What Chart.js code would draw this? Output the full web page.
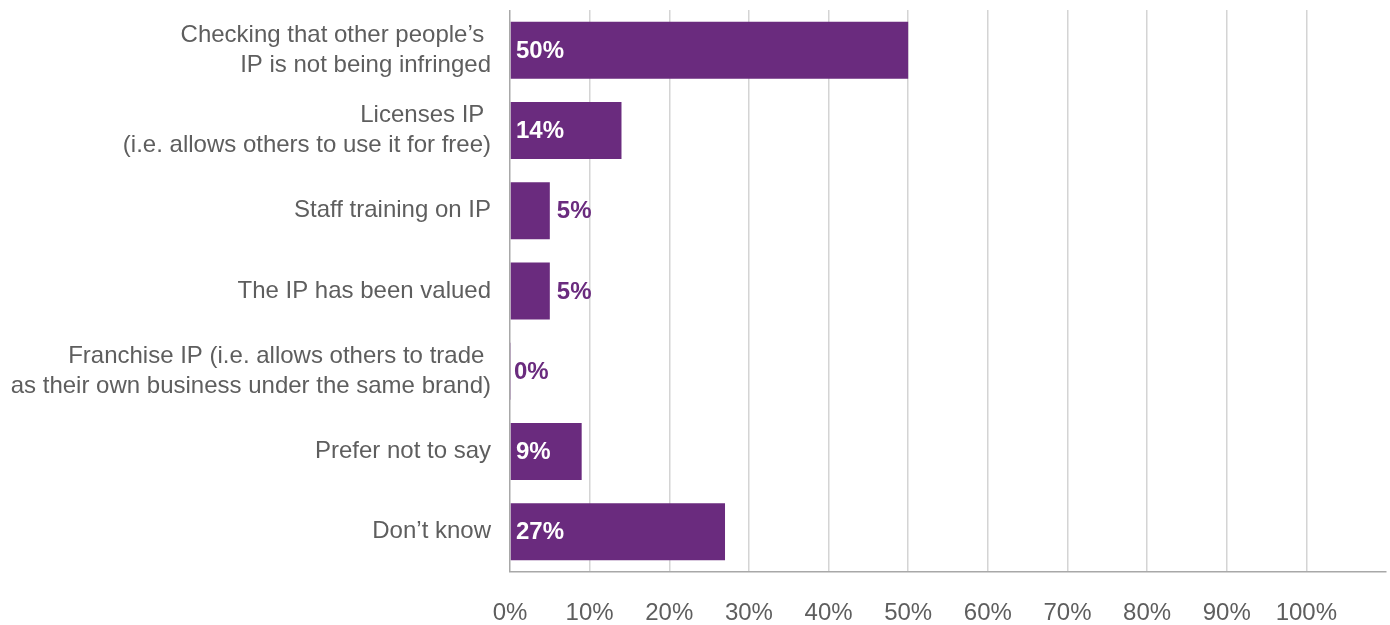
<!DOCTYPE html>
<html>
<head>
<meta charset="utf-8">
<title>IP activities</title>
<script src="https://cdn.jsdelivr.net/npm/chart.js@4/dist/chart.umd.min.js"></script>
<style>
  html, body { margin: 0; padding: 0; background: #fff; }
  #wrap { position: relative; width: 1390px; height: 625px; }
</style>
</head>
<body>
<div id="wrap"><canvas id="ip-chart"></canvas></div>
<script>
// --- 數據 ---
const categories = [
  ['Checking that other people\u2019s ', 'IP is not being infringed'],
  ['Licenses IP ', '(i.e. allows others to use it for free)'],
  'Staff training on IP',
  'The IP has been valued',
  ['Franchise IP (i.e. allows others to trade ', 'as their own business under the same brand)'],
  'Prefer not to say',
  'Don\u2019t know'
];
const shares = [50, 14, 5, 5, 0, 9, 27];
const xTicks = [0, 10, 20, 30, 40, 50, 60, 70, 80, 90, 100];
const xMax = 110;

const purple = '#6a2b7e';
const textGrey = '#5e5e5e';
const fontFamily = '"Liberation Sans", Arial, Helvetica, sans-serif';

// 在長條上標示百分比: 夠長的放在條內 (白字), 短的放在條外 (紫字)
const valueLabels = {
  id: 'valueLabels',
  afterDatasetsDraw(chart) {
    const ctx = chart.ctx;
    const meta = chart.getDatasetMeta(0);
    const base = chart.scales.x.getPixelForValue(0);
    ctx.save();
    ctx.font = 'bold 24px ' + fontFamily;
    ctx.textAlign = 'left';
    ctx.textBaseline = 'middle';
    meta.data.forEach((bar, i) => {
      const v = shares[i];
      let x;
      if (v >= 8) {
        ctx.fillStyle = '#ffffff';
        x = base + 6;
      } else {
        ctx.fillStyle = purple;
        x = v > 0 ? bar.x + 7 : base + 4;
      }
      ctx.fillText(v + '%', x, bar.y + 1);
    });
    ctx.restore();
  }
};

function initChart() {
  const ctx = document.getElementById('ip-chart').getContext('2d');
  new Chart(ctx, {
    type: 'bar',
    data: {
      labels: categories,
      datasets: [{
        data: shares,
        backgroundColor: purple,
        borderWidth: 0,
        categoryPercentage: 1,
        barPercentage: 0.71,
        minBarLength: 1
      }]
    },
    options: {
      indexAxis: 'y',
      responsive: true,
      maintainAspectRatio: false,
      animation: false,
      layout: { padding: { top: 10, right: 4, bottom: 0, left: 0 } },
      scales: {
        x: {
          min: 0,
          max: xMax,
          afterBuildTicks(scale) {
            scale.ticks = xTicks.map(v => ({ value: v }));
          },
          afterFit(scale) {
            scale.height = 53;
            scale.paddingLeft = 0;
            scale.paddingRight = 0;
          },
          grid: {
            drawTicks: false,
            lineWidth: 1.5,
            color: c => c.tick && c.tick.value === 0 ? '#a8a8a8' : '#d4d4d4'
          },
          border: { display: true, color: '#a8a8a8', width: 1.5 },
          ticks: {
            padding: 27,
            color: textGrey,
            font: { family: fontFamily, size: 24 },
            callback: v => v + '%'
          }
        },
        y: {
          afterFit(scale) {
            scale.width = 510;
            scale.paddingTop = 0;
            scale.paddingBottom = 0;
          },
          grid: { display: false, drawTicks: false },
          border: { display: false },
          ticks: {
            padding: 19,
            color: textGrey,
            font: { family: fontFamily, size: 24, lineHeight: 1.25 }
          }
        }
      },
      plugins: {
        legend: { display: false },
        tooltip: { enabled: false }
      }
    },
    plugins: [valueLabels]
  });
}

document.addEventListener('DOMContentLoaded', initChart);
</script>
</body>
</html>
